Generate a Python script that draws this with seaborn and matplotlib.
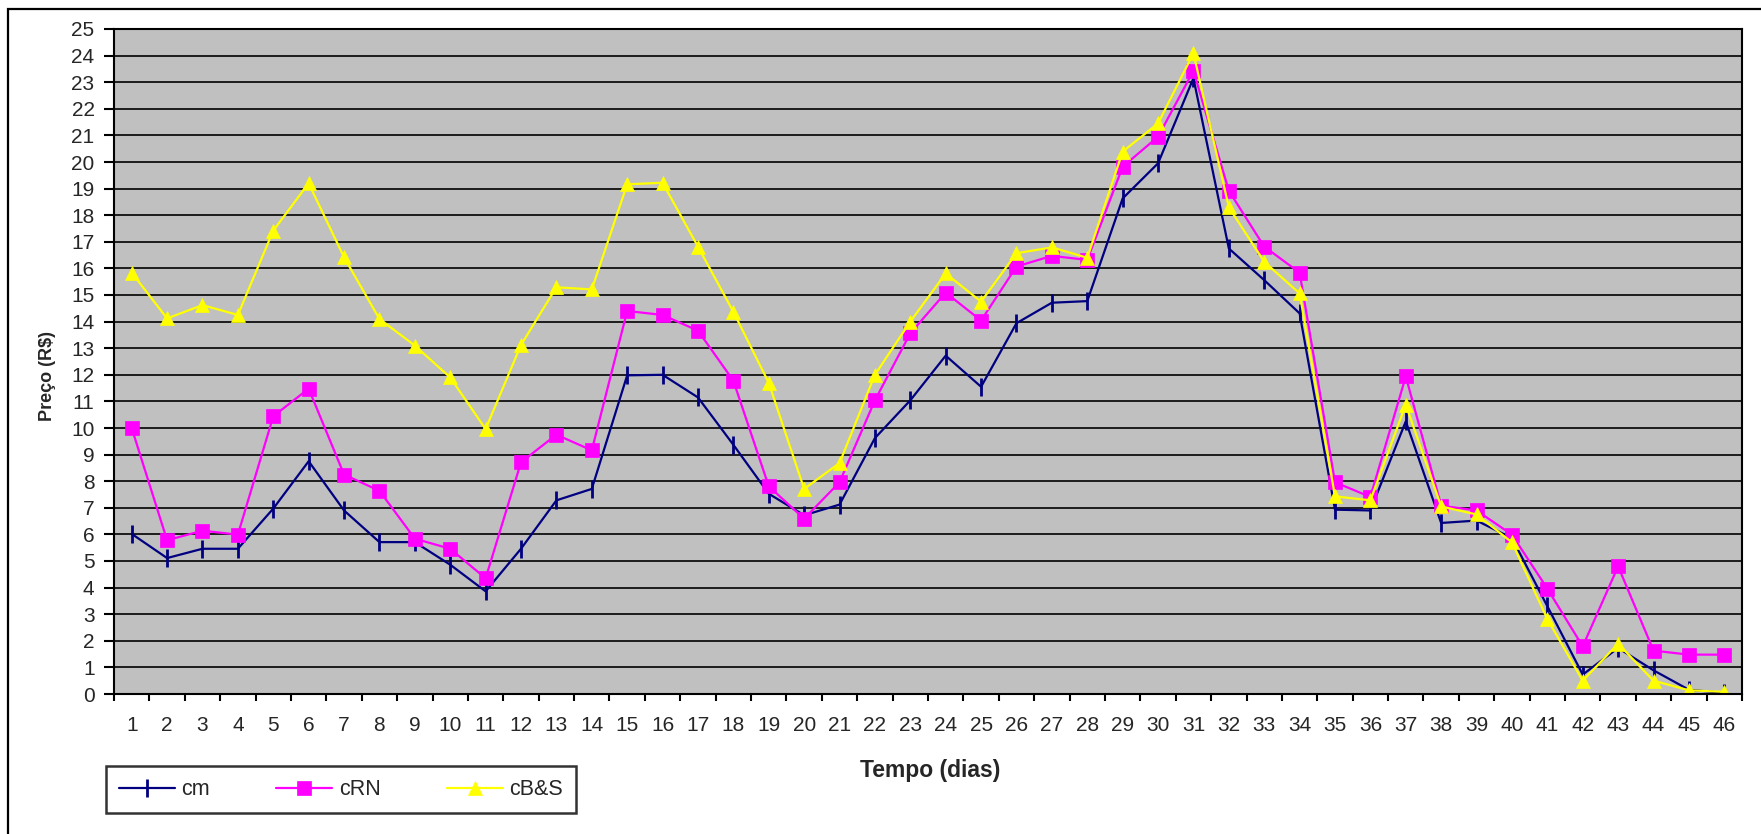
import numpy as np
import pandas as pd
import matplotlib
matplotlib.use("Agg")
import matplotlib.pyplot as plt
import seaborn as sns
from matplotlib.patches import Rectangle
from matplotlib.ticker import MultipleLocator

days = list(range(1, 47))

cm = [6.02, 5.11, 5.46, 5.46, 6.97, 8.75, 6.90, 5.71, 5.71, 4.86,
      3.86, 5.46, 7.28, 7.71, 11.98, 12.00, 11.15, 9.37, 7.53, 6.72,
      7.12, 9.62, 11.04, 12.72, 11.55, 13.94, 14.71, 14.77, 18.63, 19.95,
      23.15, 16.75, 15.56, 14.31, 6.93, 6.90, 10.25, 6.43, 6.52, 5.86,
      3.30, 0.73, 1.73, 0.89, 0.16, 0.04]

crn = [10.00, 5.78, 6.14, 5.99, 10.44, 11.48, 8.25, 7.64, 5.84, 5.46,
       4.35, 8.71, 9.75, 9.16, 14.40, 14.25, 13.66, 11.78, 7.81, 6.59,
       7.96, 11.04, 13.56, 15.09, 14.04, 16.07, 16.47, 16.32, 19.82, 20.95,
       23.43, 18.92, 16.82, 15.84, 7.96, 7.41, 11.94, 7.08, 6.90, 5.99,
       3.96, 1.79, 4.80, 1.63, 1.48, 1.48]

cbs = [15.84, 14.12, 14.62, 14.25, 17.42, 19.20, 16.42, 14.10, 13.10, 11.90,
       9.96, 13.12, 15.29, 15.21, 19.16, 19.22, 16.82, 14.37, 11.70, 7.71,
       8.68, 12.00, 14.00, 15.81, 14.75, 16.57, 16.79, 16.40, 20.39, 21.45,
       24.09, 18.30, 16.25, 15.06, 7.43, 7.28, 10.88, 7.05, 6.75, 5.70,
       2.82, 0.50, 1.89, 0.50, 0.14, 0.08]

series = [
    ("cm", cm, "#000080", "|", 13),
    ("cRN", crn, "#FF00FF", "s", 9.5),
    ("cB&S", cbs, "#FFFF00", "^", 10),
]

sns.set_style("white")
plt.rcParams["font.family"] = ["Liberation Sans", "DejaVu Sans"]

fig = plt.figure(figsize=(17.61, 8.34), dpi=100)
ax = fig.add_axes([114 / 1761, 1 - 694 / 834, (1742 - 114) / 1761, (694 - 29) / 834])
ax.set_facecolor("#C0C0C0")

for name, vals, color, marker, ms in series:
    sns.lineplot(x=days, y=vals, ax=ax, color=color, marker=marker,
                 markersize=ms, markeredgecolor=color, markerfacecolor=color,
                 markeredgewidth=2 if marker == "|" else 0.5,
                 linewidth=1.6, label=name, legend=False)

ax.set_xlim(0.5, 46.5)
ax.set_ylim(0, 25)
ax.yaxis.set_major_locator(MultipleLocator(1))
ax.grid(axis="y", color="black", linewidth=1.2)
ax.grid(axis="x", visible=False)
ax.set_axisbelow(True)

ax.set_xticks(days)
ax.set_xticklabels([str(d) for d in days])
ax.set_xticks(np.arange(0.5, 47, 1), minor=True)
ax.tick_params(axis="x", which="major", length=0, pad=16, labelsize=15)
ax.tick_params(axis="x", which="minor", length=5, width=1.5, direction="out",
               bottom=True, color="black")
ax.tick_params(axis="y", which="major", length=7, width=1.5, direction="out",
               left=True, color="black", pad=7, labelsize=15)

for sp in ax.spines.values():
    sp.set_color("black")
    sp.set_linewidth(1.5)

ax.set_xlabel("")
ax.set_ylabel("")
fig.text(48 / 1761, 1 - 376 / 834, "Preço (R$)", fontsize=13,
         fontweight="bold", rotation=90, ha="center", va="center")
fig.text(930 / 1761, 1 - 770 / 834, "Tempo (dias)", fontsize=16.5,
         fontweight="bold", ha="center", va="center")

handles, labels = ax.get_legend_handles_labels()
leg = fig.legend(handles, labels, loc="lower left",
                 bbox_to_anchor=(106 / 1761, 1 - 813 / 834, (576 - 106) / 1761, (813 - 762) / 834),
                 mode="expand", ncol=3, fontsize=15.5, frameon=True,
                 fancybox=False, handlelength=2.6, numpoints=1, borderaxespad=0,
                 borderpad=0.6, columnspacing=1.6, handletextpad=0.3)
leg.get_frame().set_edgecolor("black")
leg.get_frame().set_linewidth(1.8)

fig.patches.append(Rectangle((8 / 1761, -0.2), 1.2, 1.2 - 9 / 834, fill=False,
                             edgecolor="black", linewidth=1.6,
                             transform=fig.transFigure, figure=fig))

fig.savefig("out.png", dpi=100)
